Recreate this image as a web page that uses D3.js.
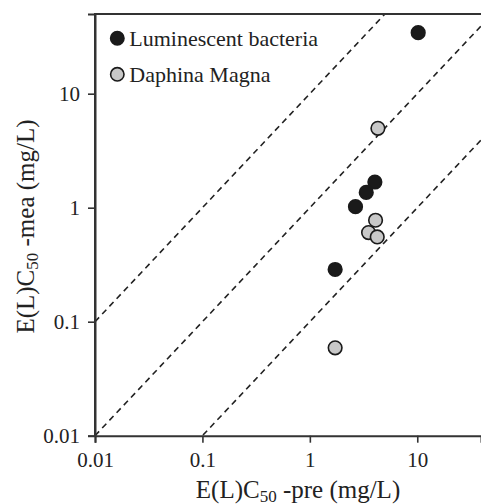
<!DOCTYPE html>
<html><head><meta charset="utf-8">
<script src="https://cdn.jsdelivr.net/npm/d3@7"></script>
<style>body{margin:0;background:#fff}svg{display:block}svg text{font-family:"Liberation Serif","Times New Roman",serif !important;fill:#222}</style>
</head><body><svg id="c" width="481" height="504"></svg>
<script>
const seriesNames = ["Luminescent bacteria", "Daphina Magna"];
const bacteriaX = [10.2, 2.66, 3.35, 4.03, 1.72];
const bacteriaY = [34.3, 1.02, 1.36, 1.68, 0.287];
const daphniaX = [4.30, 4.09, 3.52, 4.24, 1.72];
const daphniaY = [4.97, 0.776, 0.605, 0.554, 0.059];
const tickValues = [0.01, 0.1, 1, 10];
const tickLabels = ["0.01", "0.1", "1", "10"];
const ratioLines = [10, 1, 0.1];

const FONT = '"Liberation Serif","Times New Roman",serif';
const svg = d3.select("#c");
const L = 95, T = 14, R = 481, B = 435.7;
const x = d3.scaleLog().domain([0.01, 39.2]).range([L, R]);
const y = d3.scaleLog().domain([0.01, 50]).range([B, T]);

svg.append("clipPath").attr("id","clip").append("rect")
  .attr("x", L).attr("y", T).attr("width", R - L + 5).attr("height", B - T);

const g = svg.append("g").attr("clip-path","url(#clip)");
ratioLines.forEach(k => {
  g.append("line")
    .attr("x1", x(0.01)).attr("y1", y(0.01 * k))
    .attr("x2", x(100)).attr("y2", y(100 * k))
    .attr("stroke", "#222").attr("stroke-width", 1.6)
    .attr("stroke-dasharray", "6,4.5");
});

svg.append("path").attr("d", `M${L},${B}V${T}H${R+5}`).attr("fill","none").attr("stroke","#333").attr("stroke-width",2);

const xAxis = d3.axisBottom(x).tickValues(tickValues).tickFormat((d,i)=>tickLabels[i]).tickSize(7).tickPadding(9);
const yAxis = d3.axisLeft(y).tickValues(tickValues).tickFormat((d,i)=>tickLabels[i]).tickSize(7).tickPadding(8);
const xa = svg.append("g").attr("transform", `translate(0,${B})`).call(xAxis);
const ya = svg.append("g").attr("transform", `translate(${L},0)`).call(yAxis);
[xa, ya].forEach(a => {
  a.attr("font-family", FONT).attr("font-size", 21);
  a.select(".domain").attr("stroke","#333").attr("stroke-width",2);
  a.selectAll(".tick line").attr("stroke","#333").attr("stroke-width",1.6);
  a.selectAll(".tick text").style("font-family", FONT).style("font-size", "21px").attr("fill","#222");
});
xa.selectAll(".tick text").attr("dy", "0.71em");

const pts = [
  {xs: daphniaX, ys: daphniaY, fill: "#c8c8c8"},
  {xs: bacteriaX, ys: bacteriaY, fill: "#1a1a1a"}
];
pts.forEach(s => {
  svg.append("g").selectAll("circle").data(s.xs.map((v,i)=>[v, s.ys[i]])).join("circle")
    .attr("cx", d => x(d[0])).attr("cy", d => y(d[1])).attr("r", 6.8)
    .attr("fill", s.fill).attr("stroke", "#1a1a1a").attr("stroke-width", 1.6);
});

const legFill = ["#1a1a1a", "#c8c8c8"];
seriesNames.forEach((n, i) => {
  const cy = 38.3 + i * 36;
  svg.append("circle").attr("cx", 117.3).attr("cy", cy).attr("r", 6.7)
    .attr("fill", legFill[i]).attr("stroke", "#1a1a1a").attr("stroke-width", 1.6);
  svg.append("text").attr("x", 129.3).attr("y", cy + 7.7).style("font-family", FONT).style("font-size", "22px").text(n);
});

const xt = svg.append("text").attr("x", 298).attr("y", 497.5).attr("text-anchor","middle").style("font-family", FONT).style("font-size", "25px");
xt.append("tspan").text("E(L)C");
xt.append("tspan").style("font-size", "17px").attr("dy", 4).text("50");
xt.append("tspan").attr("dy", -4).text(" -pre (mg/L)");

const yt = svg.append("text").attr("transform", "translate(33.5,226.5) rotate(-90)").attr("text-anchor","middle").style("font-family", FONT).style("font-size", "25px");
yt.append("tspan").text("E(L)C");
yt.append("tspan").style("font-size", "17px").attr("dy", 4).text("50");
yt.append("tspan").attr("dy", -4).text(" -mea (mg/L)");
</script></body></html>
